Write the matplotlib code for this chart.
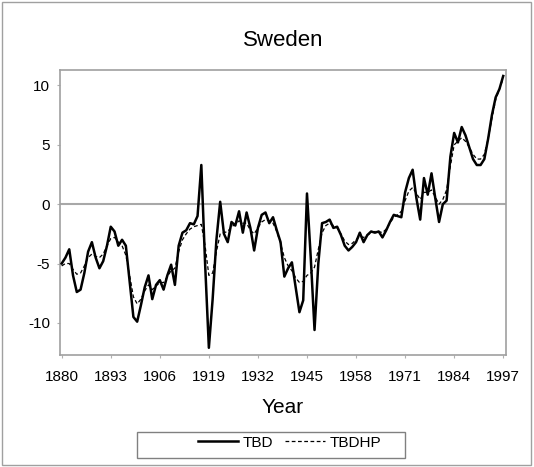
import numpy as np
import matplotlib
matplotlib.use("Agg")
import matplotlib.pyplot as plt
from matplotlib.patches import Rectangle

plt.rcParams["font.family"] = ["Liberation Sans", "DejaVu Sans"]
plt.rcParams["axes.unicode_minus"] = False

# ── Data ──────────────────────────────────────────────────────────────────────
years = np.arange(1880, 1998)

tbd = [
    -5.0, -4.5, -3.8, -6.0, -7.4, -7.2, -5.8, -4.0, -3.2, -4.5,   # 1880-1889
    -5.4, -4.8, -3.5, -1.9, -2.3, -3.5, -3.0, -3.5, -6.5, -9.5,   # 1890-1899
    -9.9, -8.5, -7.0, -6.0, -8.0, -6.8, -6.4, -7.2, -6.0, -5.1,   # 1900-1909
    -6.8, -3.5, -2.4, -2.2, -1.6, -1.7, -1.0,  3.3, -5.0, -12.1,  # 1910-1919
    -8.0, -3.0,  0.2, -2.5, -3.2, -1.5, -1.8, -0.6, -2.4, -0.7,   # 1920-1929
    -2.0, -3.9, -2.0, -0.9, -0.7, -1.6, -1.1, -2.2, -3.2, -6.1,   # 1930-1939
    -5.4, -4.9, -7.0, -9.1, -8.1,  0.9, -4.5, -10.6, -5.0, -1.6,  # 1940-1949
    -1.5, -1.3, -2.0, -1.9, -2.6, -3.5, -3.9, -3.6, -3.2, -2.4,   # 1950-1959
    -3.2, -2.6, -2.3, -2.4, -2.3, -2.8, -2.2, -1.5, -0.9, -1.0,   # 1960-1969
    -1.1,  1.0,  2.2,  2.9,  0.5, -1.3,  2.2,  0.8,  2.6,  0.5,   # 1970-1979
    -1.5,  0.0,  0.3,  4.0,  6.0,  5.2,  6.5,  5.8,  4.8,  3.8,   # 1980-1989
     3.3,  3.3,  3.8,  5.5,  7.5,  9.0,  9.7, 10.8,               # 1990-1997
]

tbdhp = [
    -5.2, -5.0, -5.0, -5.5, -5.9, -5.8, -5.2, -4.5, -4.2, -4.4,   # 1880-1889
    -4.5, -4.2, -3.5, -2.9, -2.8, -3.2, -3.5, -4.3, -6.0, -7.8,   # 1890-1899
    -8.4, -8.0, -7.3, -6.8, -7.2, -6.9, -6.6, -6.6, -6.1, -5.6,   # 1900-1909
    -5.4, -4.0, -3.0, -2.5, -2.1, -1.9, -1.8, -1.7, -3.5, -6.0,   # 1910-1919
    -5.8, -4.0, -2.5, -2.4, -2.3, -1.9, -1.7, -1.4, -1.6, -1.6,   # 1920-1929
    -2.2, -2.5, -2.0, -1.5, -1.3, -1.4, -1.6, -2.3, -3.3, -4.5,   # 1930-1939
    -5.2, -5.6, -6.2, -6.6, -6.5, -6.0, -5.8, -5.3, -3.8, -2.4,   # 1940-1949
    -1.8, -1.6, -1.8, -2.0, -2.5, -3.1, -3.4, -3.3, -3.0, -2.7,   # 1950-1959
    -2.8, -2.6, -2.4, -2.3, -2.3, -2.4, -2.1, -1.6, -1.1, -0.9,   # 1960-1969
    -0.6,  0.3,  1.1,  1.4,  0.9,  0.4,  1.0,  1.0,  1.2,  0.6,   # 1970-1979
     0.0,  0.4,  1.2,  3.2,  5.0,  5.3,  5.6,  5.3,  4.8,  4.2,   # 1980-1989
     3.8,  3.8,  4.2,  5.5,  7.2,  8.8,  9.7, 10.6,               # 1990-1997
]

xticks = [1880, 1893, 1906, 1919, 1932, 1945, 1958, 1971, 1984, 1997]
yticks = [-10, -5, 0, 5, 10]

# ── Figure ────────────────────────────────────────────────────────────────────
fig = plt.figure(figsize=(5.34, 4.67), dpi=100)
ax = fig.add_axes([0.112, 0.240, 0.836, 0.610])

# outer frame round the whole picture
fig.patches.append(Rectangle((0.004, 0.004), 0.990, 0.992, transform=fig.transFigure,
                             fill=False, edgecolor="#a0a0a0", lw=1.0))

ax.axhline(0, color="#a8a8a8", lw=1.5, zorder=1)
ax.plot(years, tbd, color="black", lw=1.8, label="TBD", zorder=3)
ax.plot(years, tbdhp, color="black", lw=0.9, linestyle=(0, (3, 2)), label="TBDHP", zorder=2)

ax.set_xlim(1879.5, 1997.8)
ax.set_ylim(-12.7, 11.3)
ax.set_xticks(xticks)
ax.set_yticks(yticks)
ax.tick_params(direction="out", length=2, color="#b0b0b0", labelsize=11)
ax.tick_params(axis="x", pad=9)
ax.tick_params(axis="y", pad=5)
for sp in ax.spines.values():
    sp.set_color("#a0a0a0")
    sp.set_linewidth(1.2)

ax.set_title("Sweden", fontsize=16, pad=17)
ax.set_xlabel("Year", fontsize=15, labelpad=10)

# legend: wide box drawn by hand, entries centred inside
fig.patches.append(Rectangle((137 / 534, 1 - 458 / 467), 268 / 534, 26 / 467,
                             transform=fig.transFigure, fill=False,
                             edgecolor="#808080", lw=1.0))
leg = fig.legend(loc="center", bbox_to_anchor=(0.542, 0.052), ncol=2, fontsize=11,
                 frameon=False, handlelength=2.6, columnspacing=0.8,
                 handletextpad=0.3)

fig.savefig("out.png", dpi=100)
